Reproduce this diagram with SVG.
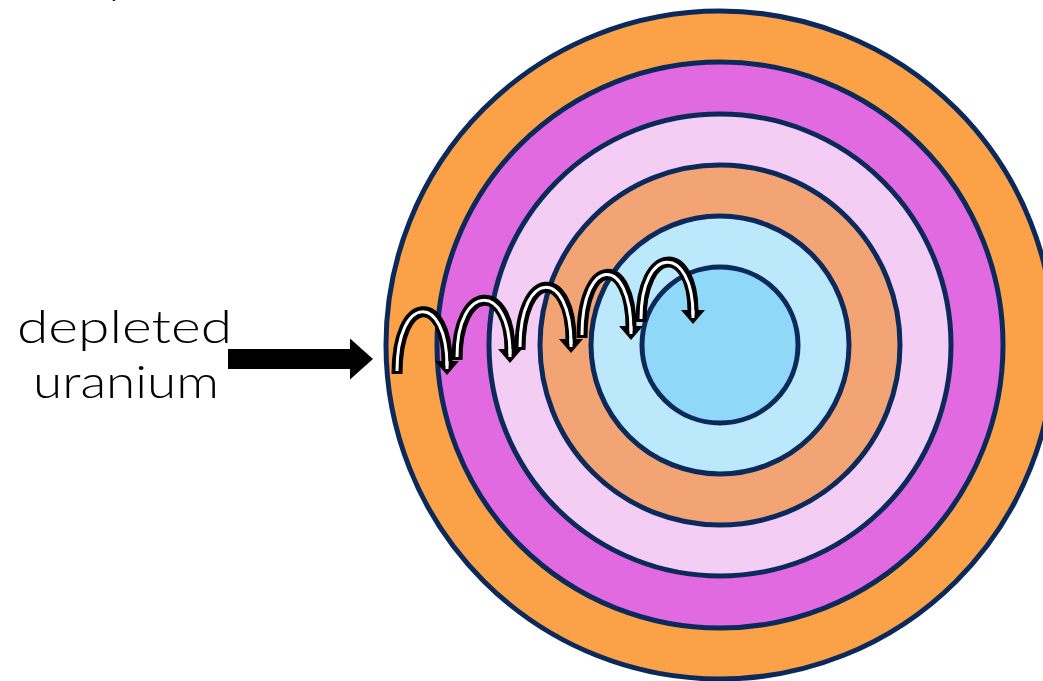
<svg xmlns="http://www.w3.org/2000/svg" width="1043" height="681" viewBox="0 0 1043 681">
  <style>
    .ring { stroke: #0b2a5b; stroke-width: 5; }
    .label { font-family: Lato, "Liberation Sans", sans-serif; font-weight: 300; font-size: 46px; fill: #000; }
    .hopOut { fill: none; stroke: #000; stroke-width: 11; marker-end: url(#hopHead); }
    .hopIn { fill: none; stroke: #fff; stroke-width: 3; }
  </style>
  <defs>
    <marker id="hopHead" markerUnits="userSpaceOnUse" viewBox="0 0 14 24" refX="1" refY="12" markerWidth="14" markerHeight="24" orient="auto" overflow="visible">
      <path d="M0,0 L14,12 L0,24 Z" fill="#000"/>
      <line x1="0" y1="12" x2="8" y2="12" stroke="#fff" stroke-width="3"/>
    </marker>
    <marker id="bigHead" markerUnits="userSpaceOnUse" viewBox="0 0 23 41" refX="0" refY="20.5" markerWidth="23" markerHeight="41" orient="auto">
      <path d="M0,0 L23,20.5 L0,41 Z" fill="#000"/>
    </marker>
  </defs>
  <rect width="1043" height="681" fill="#fff"/>

  <g id="rings">
    <circle id="ring1" class="ring" cx="720" cy="345" r="334" fill="#FBA148"/>
    <circle id="ring2" class="ring" cx="720" cy="345" r="283" fill="#E26AE0"/>
    <circle id="ring3" class="ring" cx="720" cy="345" r="231" fill="#F4CDF5"/>
    <circle id="ring4" class="ring" cx="720" cy="345" r="180" fill="#F2A475"/>
    <circle id="ring5" class="ring" cx="720" cy="345" r="129" fill="#BCE8FB"/>
    <circle id="ring6" class="ring" cx="720" cy="345" r="78" fill="#8FD8F8"/>
  </g>

  <g id="title-fragment">
    <text class="label" x="106" y="-7" font-size="40">y</text>
  </g>

  <g id="label">
    <text class="label" x="17" y="343" textLength="215" lengthAdjust="spacingAndGlyphs">depleted</text>
    <text class="label" x="33" y="398" textLength="186" lengthAdjust="spacingAndGlyphs">uranium</text>
  </g>

  <g id="connectors">
    <path id="bigArrow" d="M228,359 L350,359" stroke="#000" stroke-width="20" fill="none" marker-end="url(#bigHead)"/>

    <path class="hopOut" d="M397,374 C397,293 447,293 447,362"/>
    <path class="hopIn" d="M397,371 C397,293 447,293 447,366"/>

    <path class="hopOut" d="M457,360 C457,282 510,282 510,350"/>
    <path class="hopIn" d="M457,357 C457,282 510,282 510,354"/>

    <path class="hopOut" d="M520,350 C520,268 571,268 571,340"/>
    <path class="hopIn" d="M520,347 C520,268 571,268 571,344"/>

    <path class="hopOut" d="M582,338 C582,255 631,255 631,327"/>
    <path class="hopIn" d="M582,335 C582,255 631,255 631,331"/>

    <path class="hopOut" d="M641,322 C641,244 693,244 693,311"/>
    <path class="hopIn" d="M641,319 C641,244 693,244 693,315"/>
  </g>
</svg>
